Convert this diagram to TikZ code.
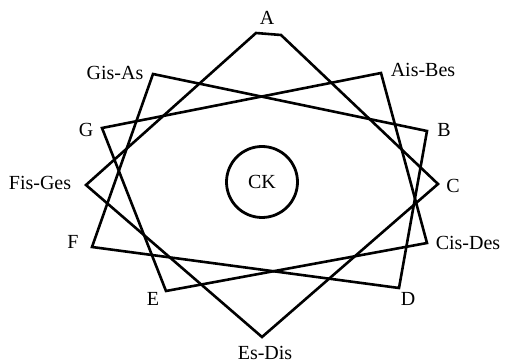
\documentclass[tikz,border=0pt]{standalone}
\usepackage{fontspec}
\setmainfont{Liberation Serif}
\usetikzlibrary{positioning}

\begin{document}
\begin{tikzpicture}[x=1pt, y=-1pt, font=\fontsize{20}{24}\selectfont, line width=2.6pt]
    \tikzset{tone/.style={inner sep=0pt},
             ring/.style={draw, circle, line width=2.8pt, minimum size=71pt, inner sep=0pt}}
    \useasboundingbox (0,0) rectangle (506,363);
    % corners of the three squares
    \coordinate (a1) at (256,33);
    \coordinate (a2) at (281,35);
    \coordinate (ais) at (381,73);
    \coordinate (b) at (427,131);
    \coordinate (c) at (438,184);
    \coordinate (cis) at (427,243);
    \coordinate (d) at (399,288);
    \coordinate (es) at (262,337);
    \coordinate (e) at (166,291);
    \coordinate (f) at (92,247);
    \coordinate (fis) at (86,185);
    \coordinate (g) at (102,128);
    \coordinate (gis) at (153,74);
    \draw (fis) -- (a1) -- (a2) -- (c) -- (es) -- cycle;
    \draw (gis) -- (b) -- (d) -- (f) -- cycle;
    \draw (ais) -- (cis) -- (e) -- (g) -- cycle;
    \node[ring] (ck) at (262,182) {CK};
    % tone names
    \node[tone] (la) at (267,18) {A};
    \node[tone] (lais) at (423,70) {Ais-Bes};
    \node[tone] (lb) at (444,130) {B};
    \node[tone] (lc) at (453,186) {C};
    \node[tone] (lcis) at (468,243) {Cis-Des};
    \node[tone] (ld) at (408,299) {D};
    \node[tone] (les) at (265,353) {Es-Dis};
    \node[tone] (le) at (153,299) {E};
    \node[tone] (lf) at (73,242) {F};
    \node[tone] (lfis) at (40,183) {Fis-Ges};
    \node[tone] (lg) at (86,130) {G};
    \node[tone] (lgis) at (115,73) {Gis-As};
\end{tikzpicture}
\end{document}
